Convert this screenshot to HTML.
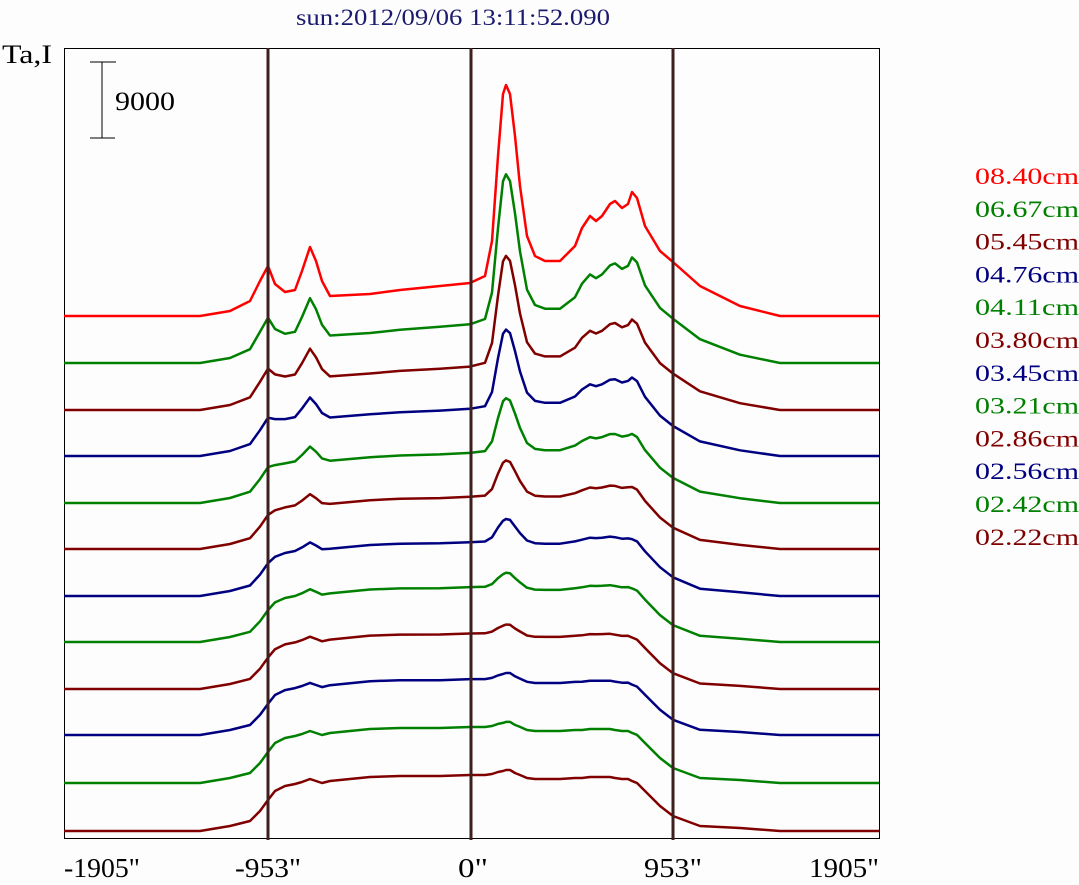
<!DOCTYPE html>
<html><head><meta charset="utf-8"><style>
body{margin:0;background:#fff;}
svg{display:block;font-family:"Liberation Serif",serif;}
</style></head><body>
<svg id="s" width="1079" height="885" viewBox="0 0 1079 885">
<rect x="0" y="0" width="1079" height="885" fill="#fdfdfd"/>
<text x="296" y="25" font-size="23" fill="#1a1a6e" textLength="314" lengthAdjust="spacingAndGlyphs">sun:2012/09/06 13:11:52.090</text>
<text x="2" y="63" font-size="26" fill="#000" textLength="50" lengthAdjust="spacingAndGlyphs">Ta,I</text>
<rect x="64.5" y="48.5" width="815" height="790" fill="none" stroke="#000" stroke-width="1"/>
<line x1="102" y1="62" x2="102" y2="138" stroke="#000"/>
<line x1="90" y1="62" x2="116" y2="62" stroke="#000"/>
<line x1="90" y1="138" x2="115" y2="138" stroke="#000"/>
<text x="115" y="110" font-size="26" fill="#000" textLength="60" lengthAdjust="spacingAndGlyphs">9000</text>
<g id="curves" fill="none" stroke-width="2.5" stroke-linejoin="round"></g>
<line x1="268" y1="48" x2="268" y2="840" stroke="#3d1f1f" stroke-width="3"/>
<line x1="471" y1="48" x2="471" y2="840" stroke="#3d1f1f" stroke-width="3"/>
<line x1="673" y1="48" x2="673" y2="840" stroke="#3d1f1f" stroke-width="3"/>
<g font-size="27" fill="#000">
<text x="64" y="877" textLength="76" lengthAdjust="spacingAndGlyphs">-1905"</text>
<text x="235" y="877" textLength="66" lengthAdjust="spacingAndGlyphs">-953"</text>
<text x="458" y="877" textLength="30" lengthAdjust="spacingAndGlyphs">0"</text>
<text x="644" y="877" textLength="58" lengthAdjust="spacingAndGlyphs">953"</text>
<text x="809" y="877" textLength="70" lengthAdjust="spacingAndGlyphs">1905"</text>
</g>
<g font-size="23" id="leg"></g>
</svg>
<script>
var cols=["#ff0000","#008000","#800000","#000080","#008000","#800000","#000080","#008000","#800000","#000080","#008000","#800000"];
var labs=["08.40cm","06.67cm","05.45cm","04.76cm","04.11cm","03.80cm","03.45cm","03.21cm","02.86cm","02.56cm","02.42cm","02.22cm"];
var lh='';for(var i=0;i<12;i++){lh+='<text x="975" y="'+(184+i*32.8).toFixed(1)+'" fill="'+cols[i]+'" textLength="104" lengthAdjust="spacingAndGlyphs">'+labs[i]+'</text>';}
document.getElementById('leg').innerHTML=lh;
var xs=[64,200,230,250,260,268,275,285,295,302,310,316,322,330,370,400,440,470,485,492,498,503,506,510,515,520,527,535,545,560,575,582,590,596,602,610,615,622,628,632,637,645,660,673,700,740,780,879];
var top_=[0,0,5,15,35,50,32,24,26,45,69,55,35,20,22,26,30,33,40,75,160,222,231,222,180,130,80,60,55,55,70,88,100,95,100,112,115,108,112,124,118,90,65,54,30,10,0,0];
var bot=[0,0,5,10,20,31,40,45,47,49,52,50,48,50,54,55,55,56,56,57,59,60,61,61,58,56,53,52,52,52,53,53,54,54,54,54,53,52,52,50,48,40,25,15,5,3,0,0];
var bases=[316,363,410,456,503,549,596,642,689,735,783,831];
var g=document.getElementById('curves'),h='';
for(var i=0;i<12;i++){var t=i/11,w=1-Math.pow(1-t,3),p='';
for(var k=0;k<xs.length;k++){var v=top_[k]+(bot[k]-top_[k])*w;p+=(k?'L':'M')+xs[k]+','+(bases[i]-v).toFixed(1);}
h+='<path d="'+p+'" stroke="'+cols[i]+'"/>';}
g.innerHTML=h;
</script>
</body></html>
